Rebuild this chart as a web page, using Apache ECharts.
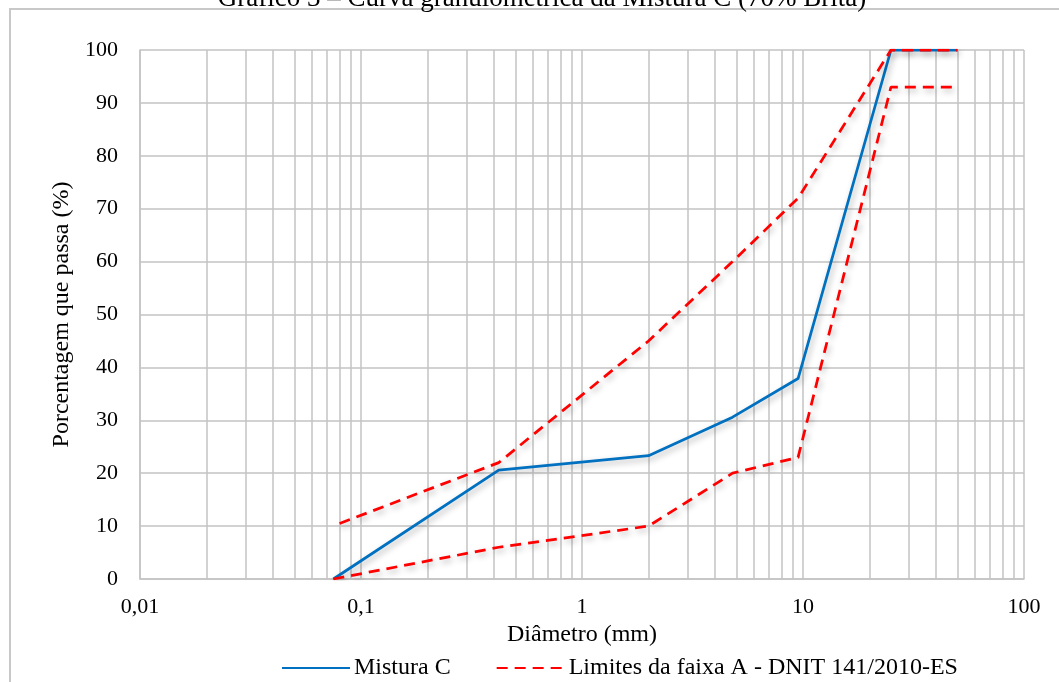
<!DOCTYPE html>
<html>
<head>
<meta charset="utf-8">
<script src="https://cdn.jsdelivr.net/npm/echarts@6/dist/echarts.min.js"></script>
<style>html,body{margin:0;padding:0;background:#fff}#c{width:1059px;height:682px}</style>
</head>
<body>
<div id="c"></div>
<script>
const titleText = 'Gráfico 3 – Curva granulométrica da Mistura C (70% Brita)';
const seriesNames = ['Mistura C', 'Limites da faixa A - DNIT 141/2010-ES'];
// Mistura C
const misturaX = [0.075, 0.42, 2.0, 4.8, 9.5, 25, 50];
const misturaY = [0, 20.6, 23.3, 30.6, 37.9, 100, 100];
// Limite superior
const upperX = [0.08, 0.42, 2.0, 4.8, 9.5, 25, 50];
const upperY = [10.5, 22, 45, 60, 72, 100, 100];
// Limite inferior
const lowerX = [0.075, 0.42, 2.0, 4.8, 9.5, 25, 50];
const lowerY = [0, 6, 10, 20, 23, 93, 93];
// axes
const xMin = 0.01, xMax = 100;
const yMin = 0, yMax = 100, yStep = 10;
const decades = [0.01, 0.1, 1, 10];
const minorMult = [2, 3, 4, 5, 6, 7, 8, 9];

const pairs = (xs, ys) => xs.map((x, i) => [x, ys[i]]);
const minorLines = [];
decades.forEach(d => minorMult.forEach(m => minorLines.push({ xAxis: +(d * m).toPrecision(6) })));

const FONT = '"Liberation Serif", "Times New Roman", serif';
const GRID = '#c3c3c3';
const shadow = { shadowColor: 'rgba(0,0,0,0.3)', shadowBlur: 6, shadowOffsetX: 2, shadowOffsetY: 3 };

const chart = echarts.init(document.getElementById('c'), null, { renderer: 'canvas' });
chart.setOption({
  animation: false,
  textStyle: { fontFamily: FONT, color: '#000' },
  graphic: [
    { type: 'rect', z: -10, shape: { x: 10, y: 9, width: 1200, height: 900 },
      style: { fill: 'none', stroke: '#c8c8c8', lineWidth: 2 } },
    { type: 'text', x: 542, y: 12, z: 10,
      style: { text: titleText, font: '27px ' + FONT, fill: '#000', align: 'center', verticalAlign: 'bottom' } }
  ],
  grid: { left: 140, right: 35, top: 50, bottom: 103 },
  legend: {
    data: seriesNames,
    left: 276, top: 651,
    itemWidth: 68, itemHeight: 14, itemGap: 45,
    itemStyle: { opacity: 0 },
    textStyle: { fontFamily: FONT, fontSize: 24, color: '#000', padding: [0, 0, 0, -1] }
  },
  xAxis: {
    type: 'log', logBase: 10, min: xMin, max: xMax,
    name: 'Diâmetro (mm)', nameLocation: 'middle', nameGap: 40,
    nameTextStyle: { fontFamily: FONT, fontSize: 24, color: '#000' },
    axisLine: { show: true, lineStyle: { color: GRID, width: 1.5 } },
    axisTick: { show: false },
    axisLabel: { fontFamily: FONT, fontSize: 22, color: '#000', margin: 17,
      formatter: v => String(v).replace('.', ',') },
    splitLine: { show: true, lineStyle: { color: GRID, width: 1.5 } }
  },
  yAxis: {
    type: 'value', min: yMin, max: yMax, interval: yStep,
    name: 'Porcentagem que passa (%)', nameLocation: 'middle', nameGap: 63,
    nameTextStyle: { fontFamily: FONT, fontSize: 24, color: '#000' },
    axisLine: { show: true, lineStyle: { color: GRID, width: 1.5 } },
    axisTick: { show: false },
    axisLabel: { fontFamily: FONT, fontSize: 22, color: '#000', margin: 22 },
    splitLine: { show: true, lineStyle: { color: GRID, width: 1.5 } }
  },
  series: [
    { type: 'line', name: '_grid', data: [], silent: true, z: 0,
      markLine: { silent: true, symbol: 'none', label: { show: false },
        lineStyle: { color: GRID, width: 1.5, type: 'solid' }, data: minorLines } },
    { type: 'line', name: seriesNames[0], data: pairs(misturaX, misturaY), symbol: 'none', z: 5,
      lineStyle: Object.assign({ color: '#0070C0', width: 2.75 }, shadow), itemStyle: { color: '#0070C0' } },
    { type: 'line', name: seriesNames[1], data: pairs(upperX, upperY), symbol: 'none', z: 6,
      lineStyle: Object.assign({ color: '#FF0000', width: 2.75, type: [11, 7] }, shadow), itemStyle: { color: '#FF0000' } },
    { type: 'line', name: seriesNames[1], data: pairs(lowerX, lowerY), symbol: 'none', z: 6,
      lineStyle: Object.assign({ color: '#FF0000', width: 2.75, type: [11, 7] }, shadow), itemStyle: { color: '#FF0000' } }
  ]
});
</script>
</body>
</html>
